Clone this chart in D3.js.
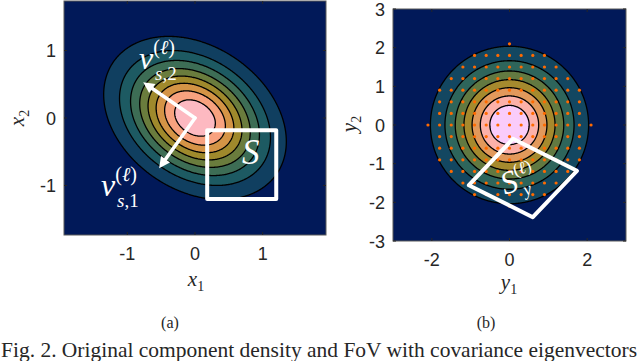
<!DOCTYPE html>
<html><head><meta charset="utf-8">
<script src="https://cdn.jsdelivr.net/npm/d3@7"></script>
<style>
html,body{margin:0;padding:0;background:#fff;}
svg{display:block;}
text{fill:#262626;}
</style></head>
<body>
<svg id="fig" width="640" height="361"></svg>
<script>
// ---------- data ----------
const eigVec1 = [-0.568, -0.823];      // v_{s,1}
const eigVec2 = [-0.823, 0.568];       // v_{s,2}
const eigVal = [0.26, 0.49];           // lambda_1, lambda_2
const arrowTip1 = [-0.53, -0.745];
const arrowTip2 = [-0.765, 0.53];
const squareS = [[0.18, -0.18], [1.2, -0.18], [1.2, -1.2], [0.18, -1.2]];
const levelsA = [0.05, 0.10, 0.15, 0.20, 0.25, 0.30, 0.35, 0.40];
const levelsB = [0.02, 0.04, 0.06, 0.08, 0.10, 0.12, 0.14];
const ticksAx = [-1, 0, 1], ticksAy = [-1, 0, 1];
const ticksBx = [-2, 0, 2], ticksBy = [-3, -2, -1, 0, 1, 2, 3];
const domainAx = [-1.935, 1.935], domainAy = [-1.734, 1.734];
const domainB = [-3, 3];
const dotStep = 0.3;
const dotRowIndex = [-7, -6, -5, -4, -3, -2, -1, 0, 1, 2, 3, 4, 5, 6, 7];
const dotRowHalf  = [ 0,  3,  4,  5,  6,  6,  6, 7, 6, 6, 6, 5, 4, 3, 0];
const batlow = ["#011959","#103F60","#1C5A62","#3C6D56","#687B3E","#9D892B","#D29343","#F8A17B","#FDB7BC","#FACCFA"];

// ---------- helpers ----------
const svg = d3.select("#fig");
const cmap = d3.scaleLinear().domain(batlow.map((c,i)=>i/(batlow.length-1))).range(batlow).interpolate(d3.interpolateRgb);
const s1 = Math.sqrt(eigVal[0]), s2 = Math.sqrt(eigVal[1]);
function whiten(p){ return [(eigVec1[0]*p[0]+eigVec1[1]*p[1])/s1, (eigVec2[0]*p[0]+eigVec2[1]*p[1])/s2]; }
const maxA = 1/(2*Math.PI*s1*s2);
function densA(x,y){ const w = whiten([x,y]); return Math.exp(-0.5*(w[0]*w[0]+w[1]*w[1]))*maxA; }
function densB(x,y){ return Math.exp(-0.5*(x*x+y*y))/(2*Math.PI); }

function panel(opt){
  const {id, xr, yr, xd, yd, dens, levels, xticks, yticks} = opt;
  const sx = d3.scaleLinear().domain(xd).range(xr);
  const sy = d3.scaleLinear().domain(yd).range(yr);
  const g = svg.append("g");
  svg.append("clipPath").attr("id","clip"+id).append("rect")
    .attr("x",xr[0]).attr("y",yr[1]).attr("width",xr[1]-xr[0]).attr("height",yr[0]-yr[1]);
  const body = g.append("g").attr("clip-path","url(#clip"+id+")");
  body.append("rect").attr("x",xr[0]).attr("y",yr[1]).attr("width",xr[1]-xr[0]).attr("height",yr[0]-yr[1])
    .attr("fill", cmap(0));
  const nx = 300, ny = Math.round(nx*(yd[1]-yd[0])/(xd[1]-xd[0]));
  const dx = (xd[1]-xd[0])/nx, dy = (yd[1]-yd[0])/ny;
  const vals = new Float64Array(nx*ny);
  for(let j=0;j<ny;j++) for(let i=0;i<nx;i++) vals[j*nx+i] = dens(xd[0]+(i+0.5)*dx, yd[0]+(j+0.5)*dy);
  const conts = d3.contours().size([nx,ny]).thresholds(levels)(vals);
  const path = d3.geoPath(d3.geoTransform({point(px,py){ this.stream.point(sx(xd[0]+px*dx), sy(yd[0]+py*dy)); }}));
  body.selectAll("path.c").data(conts).join("path").attr("class","c")
    .attr("d", path).attr("fill", d=>cmap(opt.colorFrac(d.value)))
    .attr("stroke","#000").attr("stroke-width",1.3);
  // axes box
  g.append("rect").attr("x",xr[0]).attr("y",yr[1]).attr("width",xr[1]-xr[0]).attr("height",yr[0]-yr[1])
    .attr("fill","none").attr("stroke","#5a5a5a").attr("stroke-width",1);
  const tl = 3;
  const ax = g.append("g").attr("stroke","#262626").attr("stroke-width",1);
  xticks.forEach(t=>{ ax.append("line").attr("x1",sx(t)).attr("x2",sx(t)).attr("y1",yr[0]).attr("y2",yr[0]-tl);
                      ax.append("line").attr("x1",sx(t)).attr("x2",sx(t)).attr("y1",yr[1]).attr("y2",yr[1]+tl); });
  yticks.forEach(t=>{ ax.append("line").attr("y1",sy(t)).attr("y2",sy(t)).attr("x1",xr[0]).attr("x2",xr[0]+tl);
                      ax.append("line").attr("y1",sy(t)).attr("y2",sy(t)).attr("x1",xr[1]).attr("x2",xr[1]-tl); });
  g.selectAll("text.xt").data(xticks).join("text").attr("class","xt")
    .attr("x", d=>sx(d)).attr("y", yr[0]+25).attr("text-anchor","middle")
    .style("font-family","Liberation Sans, Arial, sans-serif").style("font-size","18px").text(d=>d);
  g.selectAll("text.yt").data(yticks).join("text").attr("class","yt")
    .attr("x", xr[0]-8).attr("y", d=>sy(d)+6.5).attr("text-anchor","end")
    .style("font-family","Liberation Sans, Arial, sans-serif").style("font-size","18px").text(d=>d);
  return {sx, sy, g, body};
}

// ---------- panel (a) ----------
const A = panel({id:"a", xr:[64,326], yr:[235,1], xd:domainAx, yd:domainAy, dens:densA, levels:levelsA,
  xticks:ticksAx, yticks:ticksAy, colorFrac: v => v/maxA});
A.body.append("path").attr("d", d3.line()(squareS.map(p=>[A.sx(p[0]),A.sy(p[1])]))+"Z")
  .attr("fill","none").attr("stroke","#fff").attr("stroke-width",4).attr("stroke-linejoin","round");
function arrow(P, tip){
  const x0=P.sx(0), y0=P.sy(0), x1=P.sx(tip[0]), y1=P.sy(tip[1]);
  const ang = Math.atan2(y1-y0, x1-x0), hl=11, hw=5.5;
  const bx = x1 - hl*Math.cos(ang), by = y1 - hl*Math.sin(ang);
  P.body.append("line").attr("x1",x0).attr("y1",y0).attr("x2",bx).attr("y2",by)
    .attr("stroke","#fff").attr("stroke-width",3.5).attr("stroke-linecap","round");
  P.body.append("path").attr("d", `M${x1},${y1}L${bx+hw*Math.sin(ang)},${by-hw*Math.cos(ang)}L${bx-hw*Math.sin(ang)},${by+hw*Math.cos(ang)}Z`)
    .attr("fill","#fff");
}
arrow(A, arrowTip1); arrow(A, arrowTip2);
const serif = "Liberation Serif, Times New Roman, serif";
function vlabel(x, y, sub){
  const t = A.g.append("text").attr("x",x).attr("y",y).style("font-family",serif).style("fill","#fff");
  t.append("tspan").style("font-style","italic").style("font-size","32px").text("v");
  t.append("tspan").attr("dx",0).attr("dy",-15).style("font-size","20px").text("(");
  t.append("tspan").style("font-size","20px").style("font-style","italic").text("ℓ");
  t.append("tspan").style("font-size","20px").text(")");
  const t2 = A.g.append("text").attr("x",x+16).attr("y",y+11).style("font-family",serif).style("fill","#fff").style("font-size","19px");
  t2.append("tspan").style("font-style","italic").text("s");
  t2.append("tspan").text(","+sub);
}
vlabel(139, 69, "2");
vlabel(101, 196, "1");
A.g.append("text").attr("x",242).attr("y",164).style("font-family",serif).style("font-style","italic")
  .style("font-size","35px").style("fill","#fff").text("S");
function axLabel(g, x, y, base, sub, rot){
  const t = g.append("text").attr("transform",`translate(${x},${y})${rot?" rotate(-90)":""}`).attr("text-anchor","middle")
    .style("font-family",serif);
  t.append("tspan").style("font-style","italic").style("font-size","21px").text(base);
  t.append("tspan").attr("dy",5).style("font-size","14px").text(sub);
}
axLabel(A.g, 196, 286, "x", "1", false);
axLabel(A.g, 24, 118, "x", "2", true);

// ---------- panel (b) ----------
const B = panel({id:"b", xr:[393,626], yr:[241,9], xd:domainB, yd:domainB, dens:densB, levels:levelsB,
  xticks:ticksBx, yticks:ticksBy, colorFrac: v => v/levelsB[levelsB.length-1]});
const dots = [];
dotRowIndex.forEach((j,k)=>{ for(let i=-dotRowHalf[k]; i<=dotRowHalf[k]; i++) dots.push([i*dotStep, j*dotStep]); });
B.body.selectAll("circle.d").data(dots).join("circle").attr("class","d")
  .attr("cx",d=>B.sx(d[0])).attr("cy",d=>B.sy(d[1])).attr("r",1.6).attr("fill","#ff6a00");
B.body.append("path").attr("d", d3.line()(squareS.map(p=>{const w=whiten(p); return [B.sx(w[0]),B.sy(w[1])];}))+"Z")
  .attr("fill","none").attr("stroke","#fff").attr("stroke-width",4).attr("stroke-linejoin","round");
const sl = B.g.append("text").attr("transform","translate(505,195) rotate(-20)").style("font-family",serif).style("fill","#fff");
sl.append("tspan").style("font-style","italic").style("font-size","32px").text("S");
sl.append("tspan").attr("dy",-14).style("font-size","17px").text("(");
sl.append("tspan").style("font-size","17px").style("font-style","italic").text("ℓ");
sl.append("tspan").style("font-size","17px").text(")");
sl.append("tspan").attr("x",19).attr("y",8).style("font-size","18px").style("font-style","italic").text("y");
axLabel(B.g, 509, 289, "y", "1", false);
axLabel(B.g, 356, 124, "y", "2", true);

// ---------- captions ----------
svg.append("text").attr("x",170).attr("y",328).attr("text-anchor","middle").style("font-family",serif).style("font-size","16px").text("(a)");
svg.append("text").attr("x",486).attr("y",328).attr("text-anchor","middle").style("font-family",serif).style("font-size","16px").text("(b)");
svg.append("text").attr("x",1).attr("y",357).attr("textLength",636).attr("lengthAdjust","spacingAndGlyphs")
  .style("font-family",serif).style("font-size","21px")
  .text("Fig. 2.  Original component density and FoV with covariance eigenvectors");
</script>
</body></html>
